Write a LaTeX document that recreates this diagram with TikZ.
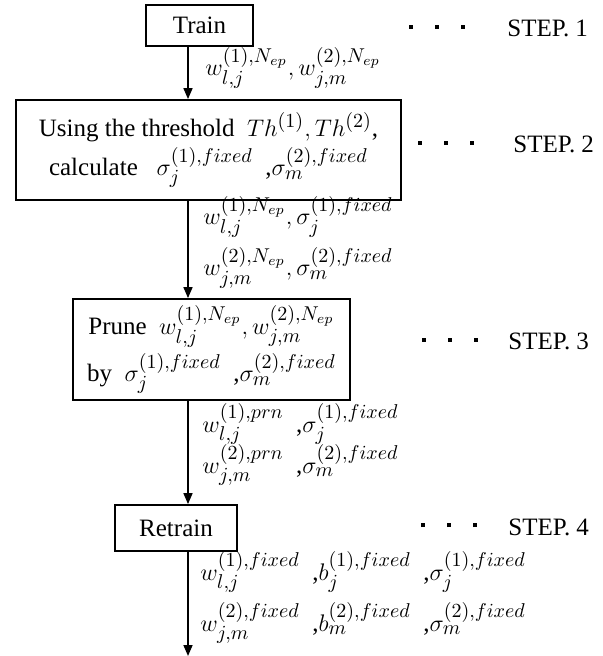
\documentclass[tikz,border=0pt]{standalone}
\usepackage{fontspec}
\setmainfont{Liberation Serif}
\DeclareMathSizes{12.5}{12.8}{9.6}{7.2}
\usetikzlibrary{arrows.meta, positioning}

\newcommand{\stepdot}{\raisebox{4pt}{\rule{2pt}{2pt}}}
\newcommand{\stepdots}{\stepdot\hspace{11pt}\stepdot\hspace{11pt}\stepdot}

\begin{document}
\begin{tikzpicture}[
  x=0.5pt, y=-0.5pt,
  every node/.style={font=\fontsize{12.5}{15}\selectfont},
  box/.style={draw, line width=0.9pt, inner sep=0pt, align=center},
  arr/.style={-{Triangle[width=4.5pt,length=5.5pt]}, line width=0.8pt},
  lbl/.style={anchor=base west, inner sep=0pt},
  steplbl/.style={anchor=base west, inner sep=0pt}
]
\useasboundingbox (0,0) rectangle (602,656);

%% process boxes
\node[box, minimum width=53.5pt, minimum height=20.5pt] (train) at (199.5,25.5) {Train};
\node[box, minimum width=192.5pt, minimum height=50pt] (calc) at (208.5,150)
  {Using the threshold \ $Th^{(1)},Th^{(2)}$,\\[2pt]
   calculate \ \ $\sigma_j^{(1),fixed}$ \ ,$\sigma_m^{(2),fixed}$};
\node[box, minimum width=138.5pt, minimum height=50.5pt] (prune) at (211.5,349.5)
  {Prune \ $w_{l,j}^{(1),N_{ep}},w_{j,m}^{(2),N_{ep}}$\\[2pt]
   by \ $\sigma_j^{(1),fixed}$ \ ,$\sigma_m^{(2),fixed}$};
\node[box, minimum width=61pt, minimum height=23pt] (retrain) at (176,528) {Retrain};

%% flow
\coordinate (ax)  at (188,0);
\coordinate (out) at (188,656);
\foreach \a/\b in {train/calc, calc/prune, prune/retrain}
  \draw[arr] (\a.south -| ax) -- (\b.north -| ax);
\draw[arr] (retrain.south -| ax) -- (out);

%% passed parameters
\node[lbl] (l1)  at (205,76)  {$w_{l,j}^{(1),N_{ep}},w_{j,m}^{(2),N_{ep}}$};
\node[lbl] (l2a) at (203,225) {$w_{l,j}^{(1),N_{ep}},\sigma_j^{(1),fixed}$};
\node[lbl] (l2b) at (203,276) {$w_{j,m}^{(2),N_{ep}},\sigma_m^{(2),fixed}$};
\node[lbl] (l3a) at (202,432) {$w_{l,j}^{(1),prn}$ \ ,$\sigma_j^{(1),fixed}$};
\node[lbl] (l3b) at (202,473) {$w_{j,m}^{(2),prn}$ \ ,$\sigma_m^{(2),fixed}$};
\node[lbl] (l4a) at (200,580)
  {$w_{l,j}^{(1),fixed}$ \ ,$b_j^{(1),fixed}$ \ ,$\sigma_j^{(1),fixed}$};
\node[lbl] (l4b) at (200,631)
  {$w_{j,m}^{(2),fixed}$ \ ,$b_m^{(2),fixed}$ \ ,$\sigma_m^{(2),fixed}$};

%% step markers
\foreach \n/\dx/\sx/\yb in {1/409/507/37, 2/418/513/153, 3/422/508/350, 4/421/508/535} {
  \node[steplbl] (d\n) at (\dx,\yb) {\stepdots};
  \node[steplbl] (s\n) at (\sx,\yb) {STEP. \n};
}

\end{tikzpicture}
\end{document}
